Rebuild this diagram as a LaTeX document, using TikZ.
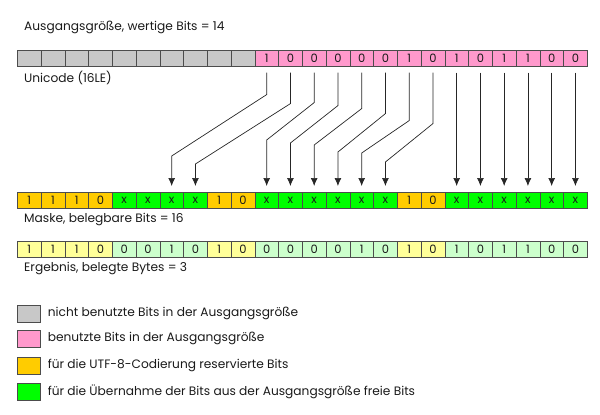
\documentclass[tikz,border=0pt]{standalone}
\usepackage{fontspec}
\setmainfont{Poppins}
\usetikzlibrary{arrows.meta}
\usetikzlibrary{calc}
\usetikzlibrary{positioning}

\definecolor{grau}{HTML}{C8C8C8}
\definecolor{rosa}{HTML}{FF99CC}
\definecolor{orange}{HTML}{FFCC00}
\definecolor{gruen}{HTML}{00FF00}
\definecolor{hgelb}{HTML}{FFFF99}
\definecolor{hgruen}{HTML}{CCFFCC}
\definecolor{schrift}{HTML}{1A1A1A}

\begin{document}
\begin{tikzpicture}[x=1pt,y=-1pt]
\useasboundingbox (0,0) rectangle (600,415);
\tikzset{bit/.style={
           draw=black!70,
           line width=0.6pt,
           minimum width=23.75pt,
           minimum height=16pt,
           inner sep=0pt,
           anchor=north west,
           text=schrift,
           font=\fontsize{11.5}{12}\selectfont,
           },
         lbl/.style={
           inner sep=0pt,
           text=schrift,
           font=\fontsize{12.2}{14}\selectfont,
           }
         }
%==========================================
% Ausgangsgroesse
\foreach \i in {0,...,9}
  \node[bit,fill=grau] (t\i) at ({17+\i*23.75},50) {};
\foreach \b [count=\i from 10] in {1,0,0,0,0,0,1,0,1,0,1,1,0,0}
  \node[bit,fill=rosa] (t\i) at ({17+\i*23.75},50) {\b};
\node[lbl,above right=16pt and 7pt of t0.north west] (titel) {Ausgangsgröße, wertige Bits = 14};
\node[lbl,below right=4pt and 7pt of t0.south west] (unicode) {Unicode (16LE)};
%==========================================
% Maske
\foreach \c/\b [count=\i from 0] in {orange/1,orange/1,orange/1,orange/0,
    gruen/x,gruen/x,gruen/x,gruen/x,orange/1,orange/0,
    gruen/x,gruen/x,gruen/x,gruen/x,gruen/x,gruen/x,orange/1,orange/0,
    gruen/x,gruen/x,gruen/x,gruen/x,gruen/x,gruen/x}
  \node[bit,fill=\c] (m\i) at ({17+\i*23.75},192) {\b};
\node[lbl,below right=4pt and 7pt of m0.south west] (maske) {Maske, belegbare Bits = 16};
%==========================================
% Ergebnis
\foreach \c/\b [count=\i from 0] in {hgelb/1,hgelb/1,hgelb/1,hgelb/0,
    hgruen/0,hgruen/0,hgruen/1,hgruen/0,hgelb/1,hgelb/0,
    hgruen/0,hgruen/0,hgruen/0,hgruen/0,hgruen/1,hgruen/0,hgelb/1,hgelb/0,
    hgruen/1,hgruen/0,hgruen/1,hgruen/1,hgruen/0,hgruen/0}
  \node[bit,fill=\c] (r\i) at ({17+\i*23.75},241) {\b};
\node[lbl,below right=4pt and 7pt of r0.south west] (ergebnis) {Ergebnis, belegte Bytes = 3};
%==========================================
% Pfeile
\tikzset{pil/.style={
           -{Latex[length=8pt,width=7pt]},
           line width=0.7pt,
           draw=black!85,
           }
           }
\foreach \s/\t/\a/\b in {10/6/28/36,11/7/37/28,12/10/36/52,13/11/39/49,
    14/12/42/47,15/13/47/40,16/14/54/39,17/15/57/30}
  \draw[pil] ([yshift=-6pt]t\s.south) -- ([yshift=-\a pt]t\s.south)
    -- ([yshift=\b pt]m\t.north) -- ([yshift=6pt]m\t.north);
\foreach \s in {18,...,23}
  \draw[pil] ([yshift=-6pt]t\s.south) -- ([yshift=6pt]m\s.north);
%==========================================
% Legende
\tikzset{leg/.style={bit,minimum width=23pt,minimum height=17pt}}
\node[leg,fill=grau] (l1) at (17,305) {};
\node[leg,fill=rosa] (l2) at (17,330) {};
\node[leg,fill=orange] (l3) at (17,357) {};
\node[leg,fill=gruen] (l4) at (17,383) {};
\node[lbl,right=7pt of l1] (lt1) {nicht benutzte Bits in der Ausgangsgröße};
\node[lbl,right=7pt of l2] (lt2) {benutzte Bits in der Ausgangsgröße};
\node[lbl,right=7pt of l3] (lt3) {für die UTF-8-Codierung reservierte Bits};
\node[lbl,right=7pt of l4] (lt4) {für die Übernahme der Bits aus der Ausgangsgröße freie Bits};
\end{tikzpicture}
\end{document}
